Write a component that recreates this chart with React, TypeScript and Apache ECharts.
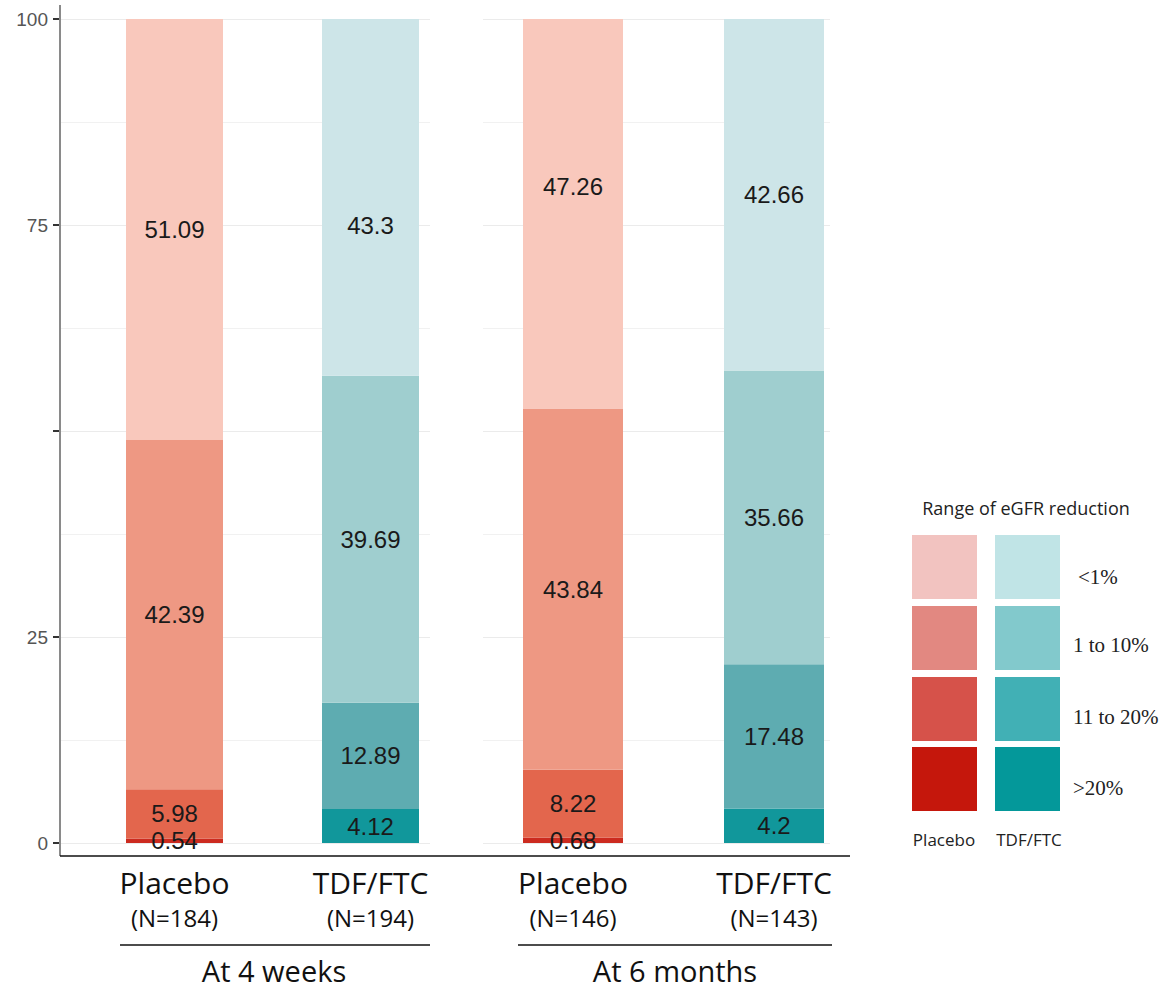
import React, { useEffect, useRef } from "react";
import * as echarts from "echarts";

// Levels, bottom of the stack to top
const levels = [">20%", "11 to 20%", "1 to 10%", "<1%"];
const arms = ["Placebo", "TDF/FTC"];
const panels = ["At 4 weeks", "At 6 months"];
const n4w = [184, 194];
const n6m = [146, 143];

const placebo4w = [0.54, 5.98, 42.39, 51.09];
const tdf4w = [4.12, 12.89, 39.69, 43.3];
const placebo6m = [0.68, 8.22, 43.84, 47.26];
const tdf6m = [4.2, 17.48, 35.66, 42.66];

const yTicks = [0, 25, 50, 75, 100];
const yLabelHidden = [50];

// styles
const barPlacebo = ["#CC2B1F", "#E3664D", "#EE9883", "#F9C8BC"];
const barTdf = ["#11979B", "#5EACB1", "#9FCECF", "#CDE5E8"];
const legPlacebo = ["#C5170C", "#D6524A", "#E28881", "#F2C3C0"];
const legTdf = ["#04989A", "#41B0B5", "#82C9CC", "#C0E4E6"];

const SANS = "'Open Sans', 'Noto Sans', sans-serif";
const ARIAL = "'Liberation Sans', Arial, sans-serif";
const SERIF = "'Liberation Serif', 'Times New Roman', serif";

export default function App() {
  const ref = useRef<HTMLDivElement>(null);

  useEffect(() => {
    if (!ref.current) return;
    const chart = echarts.init(ref.current, null, { renderer: "svg" });

    const panelData = [
      { placebo: placebo4w, tdf: tdf4w, n: n4w },
      { placebo: placebo6m, tdf: tdf6m, n: n6m },
    ];
    // bar grids (category axes) and background grids (grid lines / y axis)
    const barGrids = [
      { left: 76.5, width: 392, barWidth: 97 },
      { left: 472.5, width: 402, barWidth: 100 },
    ];
    const bgGrids = [
      { left: 60, width: 370 },
      { left: 483, width: 347 },
    ];
    // manual label nudges (style only): key panel-arm-level
    const labelNudge: Record<string, number[]> = {
      "0-1-3": [0, 28],
      "1-0-3": [0, -27],
    };

    const grids: any[] = [];
    bgGrids.forEach((g) =>
      grids.push({ left: g.left, width: g.width, top: 19, height: 824 })
    );
    barGrids.forEach((g) =>
      grids.push({ left: g.left, width: g.width, top: 19, height: 824 })
    );

    const xAxes: any[] = [];
    const yAxes: any[] = [];
    // background grids 0,1
    bgGrids.forEach((g, p) => {
      xAxes.push({
        type: "value",
        gridIndex: p,
        min: 0,
        max: 1,
        show: false,
      });
      yAxes.push({
        type: "value",
        gridIndex: p,
        min: 0,
        max: 100,
        interval: 25,
        axisLine: { show: false },
        axisTick: {
          show: p === 0,
          length: 7,
          lineStyle: { color: "#333", width: 2 },
        },
        axisLabel: {
          show: p === 0,
          margin: 12,
          fontSize: 19,
          color: "#555",
          fontFamily: ARIAL,
          formatter: (v: number) =>
            yTicks.includes(v) && !yLabelHidden.includes(v) ? String(v) : "",
        },
        splitLine: { show: true, lineStyle: { color: "#ebebeb", width: 1.2 } },
        minorTick: { show: false, splitNumber: 2 },
        minorSplitLine: { show: true, lineStyle: { color: "#f1f1f1", width: 1 } },
      });
    });
    // bar grids 2,3
    barGrids.forEach((g, p) => {
      xAxes.push({
        type: "category",
        gridIndex: 2 + p,
        data: arms,
        axisLine: { show: false },
        axisTick: { show: false },
        splitLine: { show: false },
        axisLabel: {
          margin: 22,
          interval: 0,
          formatter: (v: string, i: number) =>
            `{a|${v}}\n{b|(N=${panelData[p].n[i]})}`,
          rich: {
            a: { fontSize: 30, lineHeight: 34, color: "#111", fontFamily: SANS },
            b: { fontSize: 24, lineHeight: 36, color: "#111", fontFamily: SANS },
          },
        },
      });
      yAxes.push({
        type: "value",
        gridIndex: 2 + p,
        min: 0,
        max: 100,
        interval: 25,
        show: false,
        splitLine: { show: false },
      });
    });

    const series: any[] = [];
    panelData.forEach((pd, p) => {
      levels.forEach((lvl, i) => {
        const mk = (arm: number, val: number, color: string) => {
          const nudge = labelNudge[`${p}-${arm}-${i}`];
          const item: any = { value: val, itemStyle: { color } };
          if (nudge) item.label = { offset: nudge };
          return item;
        };
        series.push({
          type: "bar",
          name: lvl,
          xAxisIndex: 2 + p,
          yAxisIndex: 2 + p,
          stack: "panel" + p,
          barWidth: barGrids[p].barWidth,
          data: [
            mk(0, pd.placebo[i], barPlacebo[i]),
            mk(1, pd.tdf[i], barTdf[i]),
          ],
          label: {
            show: true,
            position: "inside",
            fontSize: 24,
            color: "#1a1a1a",
            fontFamily: ARIAL,
          },
        });
      });
    });

    const graphic: any[] = [];
    // y axis line of left panel
    graphic.push({
      type: "line",
      shape: { x1: 60, y1: 5, x2: 60, y2: 856 },
      style: { stroke: "#8a8a8a", lineWidth: 2 },
      z: 10,
    });
    // x axis baseline
    graphic.push({
      type: "line",
      shape: { x1: 60, y1: 856, x2: 850, y2: 856 },
      style: { stroke: "#111", lineWidth: 1.5 },
      z: 10,
    });
    // group underlines and titles
    const groupSpans = [
      [120, 430],
      [518, 832],
    ];
    const groupTitleX = [274, 675];
    panels.forEach((t, p) => {
      graphic.push({
        type: "line",
        shape: { x1: groupSpans[p][0], y1: 945, x2: groupSpans[p][1], y2: 945 },
        style: { stroke: "#111", lineWidth: 1.5 },
      });
      graphic.push({
        type: "text",
        x: groupTitleX[p],
        y: 970,
        style: {
          text: t,
          fontSize: 29,
          fontFamily: SANS,
          fill: "#111",
          textAlign: "center",
          textVerticalAlign: "middle",
        },
      });
    });

    // legend
    graphic.push({
      type: "text",
      x: 1026,
      y: 508,
      style: {
        text: "Range of eGFR reduction",
        fontSize: 18,
        fontFamily: SANS,
        fill: "#222",
        textAlign: "center",
        textVerticalAlign: "middle",
      },
    });
    const rowY = [535, 606, 677, 747];
    const labelY = [577, 645, 717, 788];
    const legendLevels = [...levels].reverse();
    legendLevels.forEach((lvl, r) => {
      graphic.push({
        type: "rect",
        shape: { x: 912, y: rowY[r], width: 65, height: 64 },
        style: { fill: legPlacebo[3 - r] },
      });
      graphic.push({
        type: "rect",
        shape: { x: 995, y: rowY[r], width: 65, height: 64 },
        style: { fill: legTdf[3 - r] },
      });
      graphic.push({
        type: "text",
        x: lvl === "<1%" ? 1078 : 1073,
        y: labelY[r],
        style: {
          text: lvl,
          fontSize: 21,
          fontFamily: SERIF,
          fill: "#222",
          textAlign: "left",
          textVerticalAlign: "middle",
        },
      });
    });
    const legArmX = [944, 1029];
    arms.forEach((a, i) => {
      graphic.push({
        type: "text",
        x: legArmX[i],
        y: 839,
        style: {
          text: a,
          fontSize: 17,
          fontFamily: SANS,
          fill: "#222",
          textAlign: "center",
          textVerticalAlign: "middle",
        },
      });
    });

    chart.setOption({
      animation: false,
      backgroundColor: "#ffffff",
      grid: grids,
      xAxis: xAxes,
      yAxis: yAxes,
      series,
      graphic,
    });

    return () => chart.dispose();
  }, []);

  return (
    <div
      ref={ref}
      style={{ position: "fixed", left: 0, top: 0, width: 1173, height: 990 }}
    />
  );
}
